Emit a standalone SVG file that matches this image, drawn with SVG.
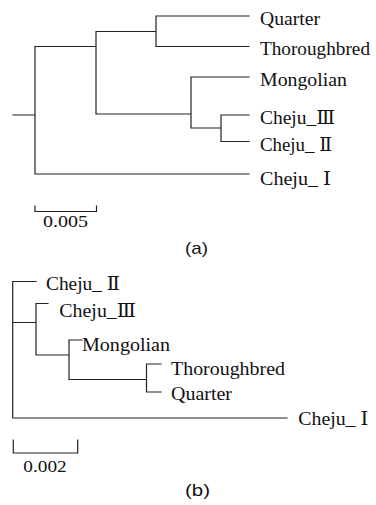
<svg xmlns="http://www.w3.org/2000/svg" width="376" height="505" viewBox="0 0 376 505">
<style>
.ln{stroke:#222;stroke-width:1.2;fill:none;stroke-linecap:square}
.lb{font-family:"Liberation Serif","DejaVu Serif","Noto Sans CJK SC",serif;font-size:19px;fill:#111}
.sc{font-family:"Liberation Serif","DejaVu Serif",serif;font-size:17px;fill:#111}
.cap{font-family:"Liberation Sans",Arial,sans-serif;font-size:17px;fill:#111}
</style>
<rect width="376" height="505" fill="#fff"/>
<g id="connectors">
<path class="ln" d="M13,115 H35 M35,46.5 V174 M35,46.5 H96 M96,31.5 V114 M96,31.5 H156 M156,16 V46.5 M156,16 H249 M156,46.5 H249 M96,114 H191 M191,77 V128 M191,77 H249 M191,128 H221 M221,115 V141.5 M221,115 H249 M221,141.5 H249 M35,174 H249"/>
<path class="ln" d="M35,206 V211.5 H96.5 V206"/>
<path class="ln" d="M12.7,281.5 V418 M12.7,281.5 H36 M12.7,322.5 H36 M36,303.5 V355 M36,303.5 H48 M36,355 H69 M69,340 V379.5 M69,340 H82 M69,379.5 H146.5 M146.5,364 V392 M146.5,364 H161 M146.5,392 H161 M12.7,418 H287"/>
<path class="ln" d="M13.3,440 V453 H77.7 V440"/>
</g>
<g id="tree-a">
<g id="a-quarter"><text class="lb" x="260" y="24.5" textLength="60" lengthAdjust="spacingAndGlyphs">Quarter</text></g>
<g id="a-thoroughbred"><text class="lb" x="260" y="55" textLength="110" lengthAdjust="spacingAndGlyphs">Thoroughbred</text></g>
<g id="a-mongolian"><text class="lb" x="260" y="86" textLength="87" lengthAdjust="spacingAndGlyphs">Mongolian</text></g>
<g id="a-cheju3"><text class="lb" x="260" y="123.5" textLength="75" lengthAdjust="spacingAndGlyphs">Cheju_Ⅲ</text></g>
<g id="a-cheju2"><text class="lb" x="260" y="151" textLength="72" lengthAdjust="spacingAndGlyphs">Cheju_ Ⅱ</text></g>
<g id="a-cheju1"><text class="lb" x="260" y="184.5" textLength="71" lengthAdjust="spacingAndGlyphs">Cheju_ Ⅰ</text></g>
<g id="a-scale"><text class="sc" x="43" y="227" textLength="45" lengthAdjust="spacingAndGlyphs">0.005</text></g>
<g id="a-caption"><text class="cap" x="185" y="254" textLength="23" lengthAdjust="spacingAndGlyphs">(a)</text></g>
</g>
<g id="tree-b">
<g id="b-cheju2"><text class="lb" x="46" y="289.5" textLength="74" lengthAdjust="spacingAndGlyphs">Cheju_ Ⅱ</text></g>
<g id="b-cheju3"><text class="lb" x="59.3" y="317" textLength="76.7" lengthAdjust="spacingAndGlyphs">Cheju_Ⅲ</text></g>
<g id="b-mongolian"><text class="lb" x="82" y="350.5" textLength="88" lengthAdjust="spacingAndGlyphs">Mongolian</text></g>
<g id="b-thoroughbred"><text class="lb" x="171" y="374.5" textLength="114" lengthAdjust="spacingAndGlyphs">Thoroughbred</text></g>
<g id="b-quarter"><text class="lb" x="171" y="399.5" textLength="61" lengthAdjust="spacingAndGlyphs">Quarter</text></g>
<g id="b-cheju1"><text class="lb" x="298.3" y="425" textLength="70" lengthAdjust="spacingAndGlyphs">Cheju_ Ⅰ</text></g>
<g id="b-scale"><text class="sc" x="23.3" y="471.5" textLength="43.4" lengthAdjust="spacingAndGlyphs">0.002</text></g>
<g id="b-caption"><text class="cap" x="185" y="496" textLength="25" lengthAdjust="spacingAndGlyphs">(b)</text></g>
</g>
</svg>
